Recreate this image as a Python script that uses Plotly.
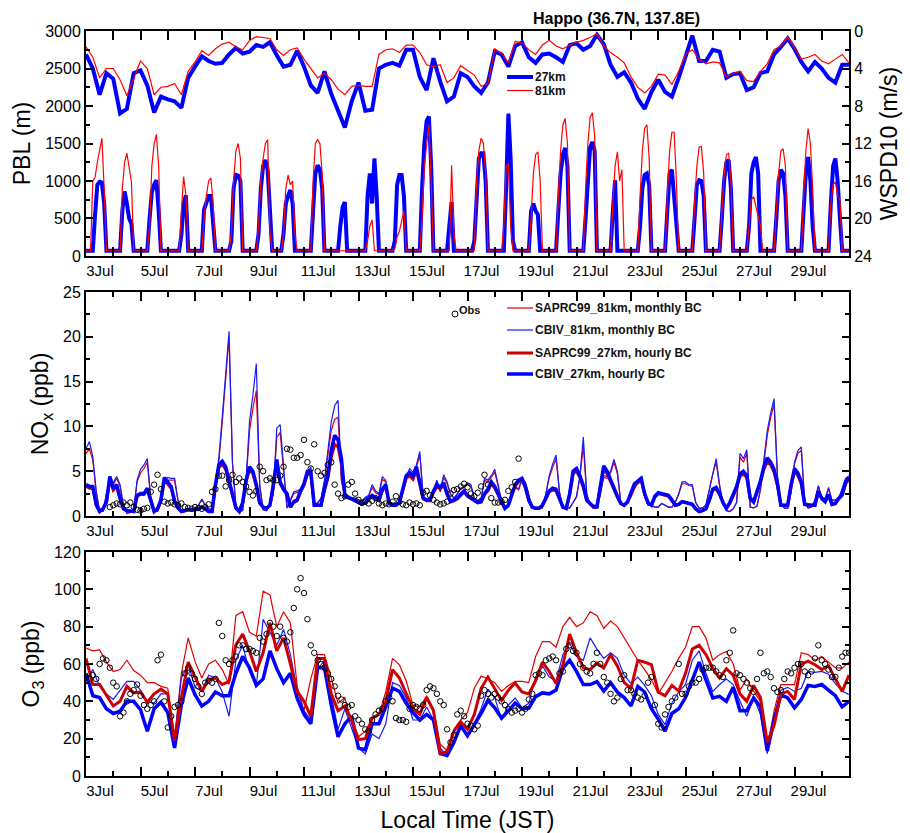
import plotly.graph_objects as go

# ------------------------------------------------------------------
# Time axis: day of month in JST, 3.0 = 3 Jul 00:00, 31.0 = 31 Jul 00:00
# ------------------------------------------------------------------
T0 = 3.0
tick_days = [3, 5, 7, 9, 11, 13, 15, 17, 19, 21, 23, 25, 27, 29]
tick_text = ["3Jul", "5Jul", "7Jul", "9Jul", "11Jul", "13Jul", "15Jul",
             "17Jul", "19Jul", "21Jul", "23Jul", "25Jul", "27Jul", "29Jul"]

# ---------------- PBL height (m), 2-hourly (00,02,...,22 JST) ----------------
pbl_27km = [
    70, 70, 70, 70, 550, 950, 990, 980, 700, 70, 70, 70,
    70, 70, 70, 70, 600, 860, 700, 500, 430, 70, 70, 70,
    70, 70, 70, 70, 500, 850, 950, 1010, 600, 70, 70, 70,
    70, 70, 70, 70, 70, 70, 280, 700, 810, 70, 70, 70,
    70, 70, 70, 70, 620, 700, 800, 800, 500, 70, 70, 70,
    70, 70, 70, 70, 200, 900, 1080, 1070, 1000, 70, 70, 70,
    70, 70, 70, 70, 300, 900, 1200, 1280, 1150, 500, 70, 70,
    70, 70, 70, 300, 700, 800, 880, 700, 70, 70, 70, 70,
    70, 70, 70, 70, 600, 1100, 1210, 1150, 900, 70, 70, 70,
    70, 70, 70, 70, 400, 650, 720, 70, 70, 70, 70, 70,
    70, 70, 70, 70, 800, 1100, 700, 1300, 800, 70, 70, 70,
    70, 70, 70, 70, 200, 950, 1080, 1080, 800, 70, 70, 70,
    70, 70, 70, 70, 900, 1500, 1800, 1860, 1200, 70, 70, 70,
    70, 70, 70, 70, 400, 720, 70, 70, 70, 70, 70, 70,
    70, 70, 70, 200, 900, 1300, 1370, 1370, 1000, 70, 70, 70,
    70, 70, 70, 70, 70, 900, 1900, 1300, 200, 70, 70, 70,
    70, 70, 70, 70, 600, 700, 600, 550, 70, 70, 70, 70,
    70, 70, 70, 70, 600, 1100, 1350, 1440, 1200, 70, 70, 70,
    70, 70, 70, 70, 500, 1100, 1450, 1520, 1400, 70, 70, 70,
    70, 70, 70, 70, 600, 1010, 70, 70, 70, 70, 70, 70,
    70, 70, 70, 70, 400, 900, 1080, 1100, 950, 70, 70, 70,
    70, 70, 70, 70, 600, 1100, 1150, 800, 400, 70, 70, 70,
    70, 70, 70, 70, 500, 950, 1010, 1000, 800, 70, 70, 70,
    70, 70, 70, 70, 500, 1000, 1250, 1280, 900, 70, 70, 70,
    70, 70, 70, 70, 400, 1100, 1250, 1320, 1100, 70, 70, 70,
    70, 70, 70, 70, 500, 1000, 1150, 1100, 800, 70, 70, 70,
    70, 70, 70, 70, 600, 1100, 1320, 1000, 400, 70, 70, 70,
    70, 70, 70, 70, 700, 1200, 1300, 1000, 500, 70, 70, 70,
    70,
]
pbl_81km = [
    70, 70, 70, 1000, 1050, 1250, 1400, 1570, 900, 70, 70, 70,
    70, 70, 70, 70, 900, 1250, 1370, 1200, 990, 70, 70, 70,
    70, 70, 70, 70, 400, 1200, 1500, 1620, 1200, 70, 70, 70,
    70, 70, 70, 70, 70, 70, 600, 1060, 800, 70, 70, 70,
    70, 70, 70, 70, 500, 800, 1000, 1040, 700, 70, 70, 70,
    70, 70, 70, 70, 300, 1000, 1400, 1500, 1300, 70, 70, 70,
    70, 70, 70, 70, 400, 1000, 1300, 1500, 1550, 300, 70, 70,
    70, 70, 70, 300, 900, 1080, 950, 1000, 300, 70, 70, 70,
    70, 70, 70, 70, 1000, 1500, 1550, 1500, 1100, 70, 70, 70,
    70, 70, 70, 70, 70, 70, 70, 70, 70, 70, 70, 70,
    70, 70, 70, 70, 200, 400, 480, 70, 70, 70, 70, 70,
    70, 70, 70, 70, 100, 250, 330, 450, 600, 70, 70, 70,
    70, 70, 70, 70, 500, 1200, 1480, 1750, 1000, 70, 70, 70,
    70, 70, 70, 70, 70, 1210, 300, 70, 70, 70, 70, 70,
    70, 70, 70, 70, 1000, 1400, 1570, 1500, 1100, 70, 70, 70,
    70, 70, 70, 70, 400, 1200, 1235, 400, 70, 70, 70, 70,
    70, 70, 70, 70, 500, 1100, 1350, 1390, 1000, 70, 70, 70,
    70, 70, 70, 70, 800, 1400, 1750, 1835, 1500, 70, 70, 70,
    70, 70, 70, 70, 900, 1500, 1850, 1910, 1600, 70, 70, 70,
    70, 70, 70, 70, 700, 1200, 1390, 1000, 1150, 70, 70, 70,
    70, 70, 70, 70, 800, 1400, 1700, 1750, 1300, 70, 70, 70,
    70, 70, 70, 70, 800, 1400, 1650, 1650, 1000, 70, 70, 70,
    70, 70, 70, 70, 700, 1200, 1450, 1460, 1100, 70, 70, 70,
    70, 70, 70, 70, 600, 1100, 1350, 1370, 1000, 70, 70, 70,
    70, 70, 70, 70, 400, 750, 790, 650, 550, 400, 70, 70,
    70, 70, 70, 70, 600, 1100, 1400, 1430, 1200, 70, 70, 70,
    70, 70, 70, 70, 800, 1400, 1700, 1500, 900, 70, 70, 70,
    70, 70, 70, 70, 700, 950, 990, 800, 750, 70, 70, 70,
    70,
]

# ---------------- 10 m wind speed (m/s), 6-hourly ----------------
wspd_27km = [
    2.5, 4.0, 6.8, 4.5,  5.1, 8.8, 8.3, 4.5,  4.2, 5.8, 8.7, 7.0,
    7.3, 7.5, 8.2, 5.0,  3.8, 2.7, 3.2, 3.5,  3.4, 2.5, 1.8, 2.4,
    2.2, 1.5, 1.7, 1.2,  2.6, 3.8, 3.6, 2.1,  3.8, 5.8, 6.6, 4.3,
    6.7, 8.5, 10.3, 7.5, 5.5, 8.5, 8.4, 4.0,  3.6, 3.4, 3.7, 2.0,
    2.0, 4.9, 6.3, 2.9,  5.4, 7.5, 7.0, 4.5,  4.9, 5.9, 6.6, 5.5,
    2.2, 2.5, 3.8, 1.6,  1.2, 2.8, 3.4, 2.5,  2.4, 2.8, 3.3, 1.5,
    1.3, 2.0, 1.6, 0.4,  1.4, 3.6, 4.9, 4.4,  5.5, 7.2, 8.3, 6.5,
    5.2, 6.5, 7.0, 5.0,  2.6, 0.5, 3.2, 3.2,  2.0, 2.2, 5.0, 4.6,
    4.5, 6.3, 6.0, 4.5,  4.3, 2.5, 1.7, 0.8,  1.9, 3.3, 4.3, 3.3,
    4.0, 5.0, 5.5, 3.6,
    3.6,
]
wspd_81km = [
    1.7, 2.8, 5.0, 4.0,  4.0, 5.2, 6.9, 5.0,  3.2, 4.0, 6.8, 6.0,
    5.9, 5.6, 6.8, 4.3,  3.3, 2.1, 2.6, 1.9,  1.4, 1.2, 1.7, 2.0,
    1.0, 0.6, 0.7, 0.8,  2.0, 2.6, 2.0, 1.8,  3.0, 4.0, 5.0, 4.5,
    5.2, 6.2, 6.8, 5.9,  5.8, 5.9, 5.9, 2.5,  2.0, 1.9, 2.3, 1.5,
    1.5, 2.3, 3.6, 3.8,  3.6, 5.5, 5.0, 3.7,  4.2, 4.7, 5.9, 5.6,
    1.9, 2.4, 3.4, 1.1,  1.3, 2.0, 2.5, 1.5,  1.0, 1.6, 1.9, 1.5,
    1.2, 1.0, 0.7, 0.3,  1.6, 2.3, 2.8, 3.4,  4.9, 6.0, 6.6, 5.9,
    4.6, 4.7, 5.7, 4.3,  2.5, 2.0, 3.0, 3.5,  3.3, 3.4, 4.9, 4.5,
    4.3, 5.3, 5.4, 4.3,  3.5, 2.0, 1.6, 0.6,  1.8, 3.0, 2.8, 2.5,
    3.2, 3.5, 3.0, 2.5,
    3.4,
]

# ---------------- NOx (ppb), 3-hourly ----------------
nox_saprc_81 = [
    7.0, 7.5, 6.2, 2.6, 0.5, 0.5, 2.4, 3.8,
    3.5, 4.2, 3.3, 1.1, 0.3, 0.4, 0.6, 3.8,
    4.8, 5.3, 6.0, 1.9, 0.5, 0.5, 1.4, 3.8,
    4.0, 4.0, 4.0, 1.7, 0.5, 0.6, 0.7, 0.7,
    0.7, 1.2, 1.8, 1.2, 0.8, 0.7, 3.6, 6.0,
    10.5, 15.0, 20.0, 5.8, 1.1, 0.5, 0.6, 3.8,
    9.5, 12.0, 14.0, 3.3, 0.7, 0.6, 1.2, 2.4,
    8.8, 9.3, 4.6, 0.9, 1.7, 2.5, 2.6, 2.8,
    3.6, 4.5, 5.2, 1.2, 1.4, 1.9, 3.7, 6.8,
    9.5, 10.8, 11.0, 3.8, 2.4, 2.0, 2.0, 2.0,
    1.8, 1.6, 2.0, 2.2, 3.2, 2.6, 2.4, 4.1,
    3.8, 1.5, 1.4, 1.4, 1.4, 2.9, 4.2, 5.0,
    4.7, 5.4, 6.8, 2.1, 1.6, 2.0, 2.7, 3.8,
    2.7, 4.3, 3.6, 2.4, 2.0, 2.4, 3.0, 3.2,
    3.5, 3.3, 2.0, 1.7, 2.0, 4.0, 3.8, 4.3,
    4.9, 3.3, 1.6, 0.9, 1.0, 2.4, 3.2, 2.9,
    4.0, 3.6, 2.2, 0.9, 0.85, 0.85, 0.9, 2.4,
    4.3, 5.4, 6.4, 2.6, 0.9, 0.85, 0.9, 1.5,
    2.1, 4.3, 7.8, 2.4, 1.2, 1.2, 1.2, 2.4,
    4.3, 4.2, 4.8, 6.0, 4.7, 1.5, 1.2, 1.7,
    2.1, 3.0, 3.7, 4.1, 2.1, 1.2, 1.2, 1.0,
    1.0, 1.4, 1.2, 1.0, 1.0, 1.5, 2.4, 3.6,
    3.6, 3.4, 3.3, 1.5, 0.85, 0.9, 1.2, 2.9,
    4.7, 6.0, 3.3, 1.4, 0.6, 0.5, 0.8, 1.5,
    6.6, 6.0, 7.0, 1.0, 0.9, 1.1, 2.9, 5.8,
    9.0, 11.0, 12.5, 4.3, 1.3, 0.9, 0.85, 2.7,
    5.8, 7.0, 7.3, 1.5, 0.9, 1.0, 1.7, 3.3,
    1.9, 1.9, 3.0, 1.7, 1.7, 1.9, 2.9, 4.0,
    4.3,
]
nox_cbiv_81 = [
    7.5, 8.3, 6.6, 2.8, 0.5, 0.5, 2.5, 4.0,
    3.7, 4.4, 3.5, 1.2, 0.3, 0.4, 0.6, 4.0,
    5.2, 5.7, 6.4, 2.0, 0.5, 0.5, 1.5, 4.0,
    4.3, 4.2, 4.2, 1.8, 0.5, 0.6, 0.7, 0.7,
    0.7, 1.2, 1.9, 1.2, 0.8, 0.7, 3.8, 6.5,
    11.0, 16.0, 20.6, 6.0, 1.2, 0.5, 0.6, 4.0,
    10.5, 13.5, 17.0, 3.5, 0.7, 0.6, 1.2, 2.5,
    9.8, 10.2, 5.0, 0.9, 1.8, 2.7, 2.8, 3.0,
    3.8, 4.8, 5.5, 1.2, 1.5, 2.0, 4.0, 7.5,
    10.5, 12.3, 12.9, 4.0, 2.5, 2.0, 2.0, 2.0,
    1.8, 1.6, 2.1, 2.3, 3.5, 2.8, 2.5, 4.4,
    4.0, 1.5, 1.4, 1.4, 1.4, 3.0, 4.4, 5.3,
    4.9, 5.7, 7.2, 2.2, 1.6, 2.0, 2.8, 4.0,
    2.8, 4.6, 3.8, 2.5, 2.0, 2.5, 3.1, 3.3,
    3.7, 3.5, 2.0, 1.7, 2.0, 4.2, 4.0, 4.5,
    5.2, 3.5, 1.6, 0.9, 1.0, 2.5, 3.3, 3.0,
    4.2, 3.8, 2.3, 0.9, 0.85, 0.85, 0.9, 2.5,
    4.5, 5.8, 6.8, 2.7, 0.9, 0.85, 0.9, 1.5,
    2.2, 4.5, 8.8, 2.5, 1.2, 1.2, 1.2, 2.5,
    4.5, 4.4, 5.0, 6.3, 5.0, 1.5, 1.2, 1.8,
    2.2, 3.2, 4.0, 4.4, 2.2, 1.2, 1.2, 1.0,
    1.0, 1.4, 1.2, 1.0, 1.0, 1.5, 2.5, 3.8,
    3.8, 3.5, 3.5, 1.5, 0.85, 0.9, 1.2, 3.0,
    5.0, 6.4, 3.5, 1.4, 0.6, 0.5, 0.8, 1.5,
    7.0, 6.4, 7.4, 1.0, 0.9, 1.1, 3.0, 6.0,
    9.5, 11.5, 13.1, 4.5, 1.3, 0.9, 0.85, 2.8,
    6.0, 7.3, 7.7, 1.5, 0.9, 1.0, 1.8, 3.4,
    2.0, 2.0, 3.2, 1.8, 1.8, 2.0, 3.0, 4.2,
    4.5,
]
nox_saprc_27 = [
    3.3, 3.1, 3.1, 1.2, 0.5, 0.8, 1.5, 4.1,
    2.9, 3.3, 1.9, 0.8, 0.6, 0.5, 0.5, 2.2,
    2.4, 2.4, 2.9, 1.7, 0.5, 0.8, 1.7, 4.0,
    3.6, 3.1, 1.6, 0.9, 0.5, 0.6, 0.7, 0.7,
    0.7, 0.8, 1.0, 0.8, 0.5, 0.5, 3.3, 5.4,
    5.8, 5.2, 3.8, 2.1, 0.9, 0.5, 1.4, 3.8,
    5.2, 4.7, 3.3, 1.4, 1.0, 0.85, 1.2, 3.3,
    5.9, 3.6, 2.9, 2.4, 1.0, 1.5, 1.7, 2.7,
    3.4, 4.7, 4.7, 1.2, 1.2, 1.2, 2.9, 4.2,
    6.5, 8.0, 7.7, 5.8, 2.2, 2.0, 1.9, 1.7,
    1.5, 1.3, 1.5, 1.9, 2.2, 1.9, 1.7, 2.8,
    3.3, 1.4, 1.2, 1.2, 1.5, 2.8, 4.2, 4.5,
    4.1, 5.1, 3.6, 1.9, 1.7, 1.7, 2.6, 3.3,
    3.0, 3.5, 2.4, 1.6, 1.7, 1.9, 2.3, 2.7,
    2.2, 1.9, 1.7, 1.5, 1.6, 2.4, 2.8, 3.6,
    3.1, 2.4, 1.5, 0.85, 1.2, 2.4, 3.3, 3.8,
    4.0, 3.1, 1.7, 1.0, 0.85, 0.85, 1.2, 1.9,
    2.7, 2.9, 2.8, 1.9, 1.0, 0.85, 2.4, 4.7,
    5.0, 4.3, 3.2, 1.7, 1.3, 1.0, 1.0, 3.3,
    5.3, 4.7, 3.8, 2.9, 2.1, 1.4, 1.2, 1.5,
    2.4, 3.4, 3.7, 4.0, 2.4, 1.5, 1.2, 2.1,
    2.5, 2.4, 2.3, 2.2, 1.7, 1.2, 1.3, 1.6,
    1.5, 1.4, 1.3, 0.8, 0.5, 0.6, 0.8, 1.7,
    2.9, 3.0, 2.4, 1.5, 0.85, 1.4, 2.2, 3.1,
    4.4, 4.7, 4.3, 1.9, 1.5, 2.7, 3.7, 5.2,
    6.1, 5.7, 4.9, 3.4, 1.2, 1.2, 1.2, 3.3,
    5.0, 4.5, 3.6, 1.3, 1.2, 1.2, 1.2, 2.7,
    1.9, 1.6, 2.3, 1.3, 1.4, 1.9, 2.3, 3.6,
    4.1,
]
nox_cbiv_27 = [
    3.5, 3.3, 3.3, 1.3, 0.5, 0.8, 1.6, 4.4,
    3.1, 3.5, 2.0, 0.8, 0.6, 0.5, 0.5, 2.3,
    2.5, 2.5, 3.1, 1.8, 0.5, 0.8, 1.8, 4.3,
    3.8, 3.3, 1.7, 0.9, 0.5, 0.6, 0.7, 0.7,
    0.7, 0.8, 1.0, 0.8, 0.5, 0.5, 3.5, 5.7,
    6.1, 5.5, 4.0, 2.2, 0.9, 0.5, 1.5, 4.0,
    5.5, 5.0, 3.5, 1.5, 1.0, 0.85, 1.2, 3.5,
    6.3, 3.8, 3.0, 2.5, 1.0, 1.6, 1.8, 2.8,
    3.6, 5.0, 5.0, 1.2, 1.2, 1.2, 3.0, 4.5,
    7.3, 9.0, 8.5, 6.4, 2.3, 2.1, 2.0, 1.8,
    1.5, 1.3, 1.5, 2.0, 2.3, 2.0, 1.8, 3.0,
    3.5, 1.4, 1.2, 1.2, 1.5, 3.0, 4.5, 4.8,
    4.4, 5.5, 3.8, 2.0, 1.8, 1.8, 2.8, 3.5,
    3.2, 3.7, 2.5, 1.6, 1.8, 2.0, 2.4, 2.8,
    2.3, 2.0, 1.8, 1.5, 1.6, 2.5, 3.0, 3.8,
    3.3, 2.5, 1.5, 0.85, 1.2, 2.5, 3.5, 4.0,
    4.2, 3.3, 1.8, 1.0, 0.85, 0.85, 1.2, 2.0,
    2.8, 3.1, 3.0, 2.0, 1.0, 0.85, 2.5, 5.0,
    5.3, 4.5, 3.4, 1.8, 1.4, 1.0, 1.0, 3.5,
    5.6, 5.0, 4.0, 3.0, 2.2, 1.4, 1.2, 1.6,
    2.5, 3.6, 3.9, 4.2, 2.5, 1.5, 1.2, 2.2,
    2.6, 2.5, 2.4, 2.3, 1.8, 1.2, 1.3, 1.6,
    1.5, 1.4, 1.3, 0.8, 0.5, 0.6, 0.8, 1.8,
    3.0, 3.2, 2.5, 1.5, 0.85, 1.5, 2.3, 3.3,
    4.7, 5.0, 4.5, 2.0, 1.6, 2.8, 3.9, 5.5,
    6.5, 6.0, 5.2, 3.6, 1.2, 1.2, 1.2, 3.5,
    5.3, 4.8, 3.8, 1.3, 1.2, 1.2, 1.2, 2.8,
    2.0, 1.6, 2.4, 1.3, 1.4, 2.0, 2.4, 3.8,
    4.3,
]
nox_obs = [
    None, None, None, None, None, None, None, 1.0,
    1.2, 1.4, 1.3, 1.5, 1.2, 1.5, 1.0, 0.7,
    0.6, 0.8, 0.9, 2.7, 3.5, 4.6, 3.0, 1.6,
    1.4, 1.5, 1.3, 1.2, 1.4, 1.0, 0.9, 0.8,
    1.0, 0.9, 0.8, 1.0, 1.3, 2.7, 3.0, 4.5,
    4.5, 3.3, 4.0, 4.6, 3.8, 4.2, 3.8, 3.3,
    2.7, 2.3, 2.8, 5.5, 5.0, 4.0, 4.2, 4.0,
    4.0, 4.5, 5.5, 7.5, 7.4, 6.5, 6.5, 6.8,
    8.5, 6.0, 5.3, 8.0, 5.0, 4.5, 4.8, 5.7,
    6.0, 3.5, 2.5, 2.0, 2.2, 3.5, 3.8, 2.5,
    1.8, 1.5, 1.6, 1.4, 1.7, 2.0, 1.4, 1.2,
    1.4, 1.3, 1.6, 2.2, 1.6, 1.3, 1.2, 1.5,
    1.3, 1.4, 1.2, 2.6, 2.8, 2.3, 1.8, 1.5,
    1.3, 1.4, 1.6, 2.5, 2.9, 3.0, 3.3, 3.6,
    3.2, 2.5, 2.2, 2.6, 3.3, 4.6, 3.5, 2.0,
    1.5, 1.5, 1.6, 1.8, 2.8, 3.2, 3.8, 6.4,
]

# ---------------- O3 (ppb), 6-hourly ----------------
o3_saprc_81 = [
    68.5, 67, 67.5, 61,  56, 57, 62, 56.5,  54, 50, 50, 48,
    47, 20, 55, 74,  61.4, 52.5, 60, 62,  57, 49, 86, 88,
    77, 75, 99, 97,  80, 88, 82, 48,  35, 52, 65, 65,
    52.5, 39, 42, 28,  21, 24, 31, 33,  45, 63, 59.6, 51,
    38, 37, 43, 36,  17, 13.5, 25, 30,  34, 47, 53.5, 52,
    50, 45.3, 48.5, 50.7,  50.7, 50, 64, 72,  72, 69, 80, 85,
    80, 82, 88, 86,  79, 83, 80, 74,  68, 62, 57, 51.5,
    44, 50, 56, 63,  69, 80, 80, 74,  62, 65, 66.7, 60,
    46, 52, 45.3, 40,  14, 35, 49, 49,  49, 66, 65, 62,
    64, 61, 58, 57.8,
    61,
]
o3_cbiv_81 = [
    50.7, 57, 48, 44,  41, 46, 50.7, 50.7,  46, 40, 39, 44,
    44, 20, 52.5, 60,  47.5, 45.5, 54, 52.5,  45, 32, 62, 70,
    56, 48, 84, 77,  70, 78.5, 65, 46,  35, 30, 57, 62,
    43, 25, 36, 25,  15, 11.8, 22.5, 20,  28, 50, 48.5, 42,
    30, 30, 37, 30,  15, 10.5, 18, 26,  22, 28, 36, 46.5,
    42, 30.2, 38, 41.8,  36.5, 39, 53, 59,  53, 51, 65, 71,
    64, 62, 74, 68,  63, 66, 63, 54,  49.5, 53, 48.5, 43,
    33, 27.5, 39, 45,  49, 62, 67, 55,  45.3, 49, 52, 49,
    40, 32, 42, 33,  12, 30, 46, 47.5,  45.3, 47, 56, 55.5,
    56, 54.5, 49.5, 45.5,
    43.6,
]
o3_saprc_27 = [
    63, 49, 49, 43,  37.5, 40, 48, 44.5,  45, 39.5, 44, 46.5,
    44, 19, 42, 61,  53.4, 45.3, 51.6, 52.5,  49, 50.7, 70.3, 76,
    67, 56, 66, 82,  67, 74, 60, 45.3,  40, 32, 63, 63,
    44, 35, 37.5, 30,  19.5, 20, 31, 33,  40, 57, 52.5, 44.5,
    36, 33, 42, 35,  12, 13, 24, 29,  25, 33, 47, 53,
    46.5, 40.5, 46, 49.8,  45, 44, 51, 61,  56, 49.5, 59.6, 76,
    66, 58, 57, 60.5,  57.8, 65, 59, 50,  47, 62, 61, 59.6,
    45, 43, 48.5, 45.5,  55, 68, 70, 65,  57.8, 52.5, 57.5, 54,
    44, 40, 48.5, 42,  18, 27, 44, 45.3,  41, 60, 61.5, 59.6,
    57, 59, 52, 45.3,
    54,
]
o3_cbiv_27 = [
    55, 43, 42, 36,  33.5, 34.7, 40, 40,  35.5, 24, 36, 39.5,
    34, 15, 38, 52.5,  43.6, 37.5, 40, 45,  43, 43, 55, 64,
    58, 48.5, 52, 67,  57.5, 50, 55, 41.5,  33, 28, 58, 58,
    38, 21, 28, 32,  15, 14, 28, 28,  37, 47, 45.3, 39,
    34, 30, 33, 30,  12, 11, 18, 27,  21.5, 27.5, 33.5, 40.5,
    36.5, 31, 35, 39,  36, 36.4, 42.5, 44.5,  44, 46, 57.8, 62,
    56, 49, 49, 50.5,  45.5, 50, 45, 42,  37.5, 48, 45, 36,
    30.5, 24, 33.5, 36,  42, 52, 61, 51.5,  41.8, 42.7, 40, 47.5,
    35, 35, 41.8, 37,  13.5, 30, 43.5, 41.8,  36.5, 41, 48.5, 48,
    49, 46, 43, 37,
    40,
]
# observed O3, 3-hourly
o3_obs = [
    53, 52, 54, 52, 60, 63, 62, 58,
    50, 48, 32, 34, 40, 44, 46, 49,
    43, 38, 36, 38, 40, 62, 65, 40,
    26, 32, 37, 38, 40, 55, 58, 55,
    52, 48, 44, 50, 51, 50, 52, 82,
    75, 62, 60, 62, 64, 70, 70, 68,
    68, 67, 66, 74, 72, 76, 82, 80,
    75, 80, 74, 72, 77, 90, 100, 106,
    98, 84, 70, 66, 62, 60, 58, 55,
    52, 48, 43, 41, 38, 37, 38, 32,
    30, 28, 25, 24, 30, 33, 35, 36,
    40, 42, 40, 31, 30, 30, 29, 36,
    38, 37, 36, 38, 46, 48, 47, 44,
    40, 38, 25, 18, 22, 33, 35, 32,
    28, 27, 25, 27, 43, 46, 44, 42,
    44, 42, 40, 38, 36, 34, 35, 36,
    34, 36, 41, 44, 54, 55, 54, 62,
    63, 64, 62, 55, 56, 68, 70, 67,
    66, 60, 58, 56, 55, 60, 66, 60,
    53, 50, 44, 40, 42, 52, 54, 46,
    46, 44, 42, 41, 43, 50, 53, 38,
    28, 26, 33, 37, 40, 42, 60, 44,
    44, 48, 50, 50, 52, 57, 58, 58,
    58, 56, 54, 53, 62, 66, 78, 55,
    54, 52, 50, 47, 45, 52, 66, 55,
    56, 53, 47, 45, 46, 52, 56, 55,
    58, 60, 60, 56, 54, 56, 63, 70,
    62, 60, 57, 53, 53, 58, 64, 66,
    66,
]


def times(values, per_day):
    """Sample times (day of month) for a series sampled per_day times a day."""
    return [T0 + i / per_day for i in range(len(values))]


# ---------------- styling ----------------
FONT = "Liberation Sans, Arial, Helvetica, sans-serif"
BLUE = "#0000ff"
BLUE_THIN = "#1a1aff"
RED = "#ff0000"
RED_THIN = "#e00000"
RED_DARK = "#cc0000"

fig = go.Figure()


def add_line(x, y, color, width, xa, ya, name):
    fig.add_trace(go.Scatter(
        x=x, y=y, mode="lines", name=name,
        line=dict(color=color, width=width),
        xaxis=xa, yaxis=ya, showlegend=False, hoverinfo="skip"))


def add_obs(x, y, xa, ya):
    fig.add_trace(go.Scatter(
        x=x, y=y, mode="markers", name="Obs",
        marker=dict(symbol="circle-open", size=5.5, color="black",
                    line=dict(width=1, color="black")),
        xaxis=xa, yaxis=ya, showlegend=False, hoverinfo="skip"))


# panel 1: PBL (left axis) and WSPD10 (right, reversed)
add_line(times(pbl_27km, 12), pbl_27km, BLUE, 4, "x", "y", "PBL 27km")
add_line(times(pbl_81km, 12), pbl_81km, RED, 1.2, "x", "y", "PBL 81km")
add_line(times(wspd_27km, 4), wspd_27km, BLUE, 4, "x", "y2", "WSPD10 27km")
add_line(times(wspd_81km, 4), wspd_81km, RED, 1.2, "x", "y2", "WSPD10 81km")

# panel 2: NOx
add_line(times(nox_saprc_81, 8), nox_saprc_81, RED_THIN, 1.2, "x2", "y3", "SAPRC99_81km")
add_line(times(nox_cbiv_81, 8), nox_cbiv_81, BLUE_THIN, 1.2, "x2", "y3", "CBIV_81km")
add_line(times(nox_saprc_27, 8), nox_saprc_27, RED_DARK, 3, "x2", "y3", "SAPRC99_27km")
add_line(times(nox_cbiv_27, 8), nox_cbiv_27, BLUE, 3.5, "x2", "y3", "CBIV_27km")
add_obs(times(nox_obs, 8), nox_obs, "x2", "y3")

# panel 3: O3
add_line(times(o3_saprc_81, 4), o3_saprc_81, RED_THIN, 1.2, "x3", "y4", "SAPRC99_81km")
add_line(times(o3_cbiv_81, 4), o3_cbiv_81, BLUE_THIN, 1.2, "x3", "y4", "CBIV_81km")
add_line(times(o3_cbiv_27, 4), o3_cbiv_27, BLUE, 3.5, "x3", "y4", "CBIV_27km")
add_line(times(o3_saprc_27, 4), o3_saprc_27, RED_DARK, 3, "x3", "y4", "SAPRC99_27km")
add_obs(times(o3_obs, 8), o3_obs, "x3", "y4")

# ---------------- axes ----------------
AX_LINE = dict(showline=True, linewidth=2, linecolor="black",
               showgrid=False, zeroline=False, ticks="inside",
               tickcolor="black", tickwidth=1.5, automargin=False)


def xaxis_cfg(anchor, title=None):
    cfg = dict(AX_LINE, anchor=anchor, domain=[0, 1], range=[3, 31],
               tickmode="array", tickvals=tick_days, ticktext=tick_text,
               ticklen=9, ticklabelshift=14, mirror="allticks",
               tickfont=dict(size=15, color="black"),
               minor=dict(tickmode="linear", tick0=3, dtick=1, ticklen=5,
                          ticks="inside", tickcolor="black", tickwidth=1.5))
    if title:
        cfg["title"] = dict(text=title, font=dict(size=23, color="black"),
                            standoff=14)
    return cfg


def yaxis_cfg(domain, rng, dtick, minor, title, mirror="allticks"):
    return dict(AX_LINE, domain=domain, range=rng, dtick=dtick, tick0=0,
                ticklen=7, mirror=mirror,
                tickfont=dict(size=16, color="black"),
                minor=dict(dtick=minor, tick0=0, ticklen=4, ticks="inside",
                           tickcolor="black", tickwidth=1.5),
                title=dict(text=title, font=dict(size=23, color="black"),
                           standoff=8))


D1 = [0.698, 1.0]
D2 = [0.349, 0.6497]
D3 = [0.0, 0.3007]

fig.update_layout(
    width=910, height=833,
    margin=dict(l=86, r=61, t=31, b=57, autoexpand=False),
    paper_bgcolor="white", plot_bgcolor="white",
    font=dict(family=FONT, color="black"),
    showlegend=False,
    xaxis=xaxis_cfg("y"),
    yaxis=yaxis_cfg(D1, [0, 3000], 500, 250, "PBL (m)", mirror=True),
    yaxis2=dict(AX_LINE, overlaying="y", side="right", anchor="x",
                range=[24, 0], dtick=4, tick0=0, ticklen=7,
                tickfont=dict(size=16, color="black"),
                minor=dict(dtick=2, tick0=0, ticklen=4, ticks="inside",
                           tickcolor="black", tickwidth=1.5),
                title=dict(text="WSPD10 (m/s)", font=dict(size=23, color="black"),
                           standoff=10)),
    xaxis2=xaxis_cfg("y3"),
    yaxis3=yaxis_cfg(D2, [0, 25], 5, 2.5, "NO<sub>x</sub> (ppb)"),
    xaxis3=xaxis_cfg("y4", "Local Time (JST)"),
    yaxis4=yaxis_cfg(D3, [0, 120], 20, 10, "O<sub>3</sub> (ppb)"),
)

# ---------------- title and key (page pixel positions -> paper) ----------------
PL, PT, PW, PH = 86, 31, 763, 745


def px(x):
    return (x - PL) / PW


def py(y):
    return (PT + PH - y) / PH


shapes = []
annotations = []


def key_row(x0, x1, y, color, width, label, size=12):
    shapes.append(dict(type="line", xref="paper", yref="paper",
                       x0=px(x0), x1=px(x1), y0=py(y), y1=py(y),
                       line=dict(color=color, width=width)))
    annotations.append(dict(xref="paper", yref="paper", x=px(x1), y=py(y),
                            xanchor="left", yanchor="middle", showarrow=False,
                            text=f"<b>{label}</b>",
                            font=dict(size=size, color="#111111")))


key_row(507, 533, 77, BLUE, 4, "27km")
key_row(507, 533, 90.5, RED, 1.2, "81km")

key_row(507, 533, 308, RED_THIN, 1.2, "SAPRC99_81km, monthly BC")
key_row(507, 533, 330, BLUE_THIN, 1.2, "CBIV_81km, monthly BC")
key_row(507, 533, 353, RED_DARK, 3, "SAPRC99_27km, hourly BC")
key_row(507, 533, 374, BLUE, 3.5, "CBIV_27km, hourly BC")

shapes.append(dict(type="circle", xref="paper", yref="paper",
                   xsizemode="pixel", ysizemode="pixel",
                   xanchor=px(455), yanchor=py(314),
                   x0=-3, x1=3, y0=-3, y1=3,
                   line=dict(color="black", width=1)))
annotations.append(dict(xref="paper", yref="paper", x=px(457), y=py(310),
                        xanchor="left", yanchor="middle", showarrow=False,
                        text="<b>Obs</b>", font=dict(size=11, color="#111111")))

annotations.append(dict(xref="paper", yref="paper", x=px(616), y=py(18),
                        xanchor="center", yanchor="middle", showarrow=False,
                        text="<b>Happo (36.7N, 137.8E)</b>",
                        font=dict(size=16, color="black")))

fig.update_layout(shapes=shapes, annotations=annotations)

fig.write_html("out.html")
